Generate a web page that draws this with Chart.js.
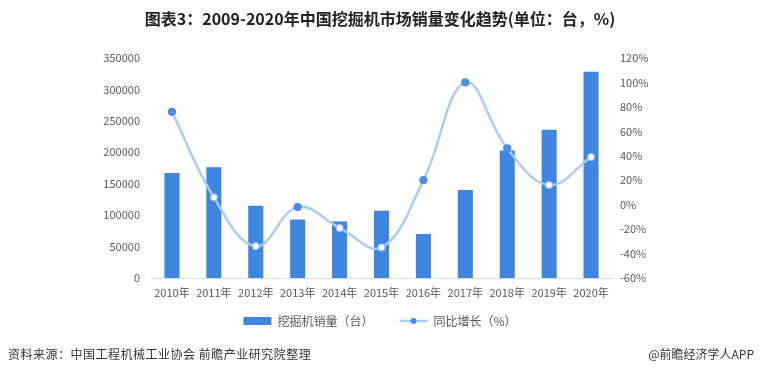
<!DOCTYPE html>
<html>
<head>
<meta charset="utf-8">
<script src="https://cdn.jsdelivr.net/npm/chart.js@4"></script>
<style>
  body { margin: 0; background: #fff; font-family: "Noto Sans CJK SC", "Noto Sans", sans-serif; }
  #wrap { position: relative; width: 760px; height: 375px; }
  #title { position: absolute; top: 6px; left: 0; width: 760px; text-align: center; font-size: 16px; font-weight: bold; color: #222; line-height: 24px; }
  #source { position: absolute; top: 345px; left: 8px; font-size: 12px; color: #333; line-height: 18px; letter-spacing: 0.5px; }
  #brand { position: absolute; top: 345px; right: 6px; font-size: 12px; color: #333; line-height: 18px; }
  canvas { position: absolute; top: 0; left: 0; }
</style>
</head>
<body>
<div id="wrap">
  <canvas id="chart" width="760" height="375"></canvas>
  <div id="title">图表3：2009-2020年中国挖掘机市场销量变化趋势(单位：台，%)</div>
  <div id="source">资料来源：中国工程机械工业协会 前瞻产业研究院整理</div>
  <div id="brand">@前瞻经济学人APP</div>
</div>
<script>
const years = ['2010年', '2011年', '2012年', '2013年', '2014年', '2015年', '2016年', '2017年', '2018年', '2019年', '2020年'];
const sales = [167000, 176000, 115000, 93000, 90000, 107000, 70000, 140000, 203000, 236000, 328000];
const growth = [76, 6, -34, -2, -19, -35, 20, 100, 46, 16, 39];
const filledPoint = [true, false, false, true, false, false, true, true, true, false, false];

const barColor = '#3f86e0';
const lineColor = '#aacdf7';
const markerColor = '#4a8de8';
const textColor = '#595959';

const legendDot = {
  id: 'legendDot',
  afterDraw(chart) {
    const boxes = chart.legend && chart.legend.legendHitBoxes;
    if (!boxes || boxes.length < 2) return;
    const b = boxes[1];
    const ctx = chart.ctx;
    ctx.save();
    ctx.fillStyle = markerColor;
    ctx.beginPath();
    ctx.arc(b.left + 14, b.top + b.height / 2, 3, 0, Math.PI * 2);
    ctx.fill();
    ctx.restore();
  }
};

const tickFont = { family: '"Noto Sans CJK SC", sans-serif', size: 11 };

new Chart(document.getElementById('chart'), {
  data: {
    labels: years,
    datasets: [
      {
        type: 'line',
        label: '同比增长（%）',
        data: growth,
        yAxisID: 'y1',
        borderColor: lineColor,
        borderWidth: 2.5,
        tension: 0.4,
        pointRadius: 3.5,
        pointBorderWidth: 1.2,
        pointBorderColor: filledPoint.map(f => f ? markerColor : '#8fb9ee'),
        pointBackgroundColor: filledPoint.map(f => f ? markerColor : '#ffffff'),
        order: 1
      },
      {
        type: 'bar',
        label: '挖掘机销量（台）',
        data: sales,
        yAxisID: 'y',
        backgroundColor: barColor,
        categoryPercentage: 0.4,
        barPercentage: 0.9,
        order: 2
      }
    ]
  },
  options: {
    responsive: false,
    animation: false,
    layout: { padding: { top: 58, bottom: 38, left: 0, right: 0 } },
    plugins: {
      title: { display: false },
      tooltip: { enabled: false },
      legend: {
        position: 'bottom',
        reverse: true,
        labels: {
          color: textColor,
          font: { family: '"Noto Sans CJK SC", sans-serif', size: 12 },
          usePointStyle: true,
          pointStyleWidth: 28,
          boxHeight: 8,
          padding: 10,
          generateLabels(chart) {
            const items = Chart.defaults.plugins.legend.labels.generateLabels(chart);
            items.forEach(it => {
              if (it.datasetIndex === 1) {
                it.pointStyle = 'rect';
                it.fillStyle = barColor;
                it.strokeStyle = barColor;
                it.lineWidth = 0;
                it.text = it.text + '      ';
              } else {
                it.pointStyle = 'line';
                it.strokeStyle = lineColor;
                it.lineWidth = 2.5;
              }
            });
            return items;
          }
        }
      }
    },
    scales: {
      x: {
        grid: { display: false, drawTicks: false },
        border: { display: true, color: '#d9d9d9' },
        ticks: { color: textColor, font: tickFont, padding: 8, maxRotation: 0 },
        afterFit(scale) { scale.height = 27; }
      },
      y: {
        position: 'left',
        min: 0,
        max: 350000,
        grid: { display: false, drawTicks: false },
        border: { display: false },
        ticks: { stepSize: 50000, color: textColor, font: tickFont, padding: 11, callback: v => String(v) },
        afterFit(scale) { scale.width = 151; }
      },
      y1: {
        position: 'right',
        min: -60,
        max: 120,
        grid: { display: false, drawTicks: false },
        border: { display: false },
        ticks: { stepSize: 20, color: textColor, font: tickFont, padding: 8, callback: v => v + '%' },
        afterFit(scale) { scale.width = 148; }
      }
    }
  },
  plugins: [legendDot]
});
</script>
</body>
</html>
